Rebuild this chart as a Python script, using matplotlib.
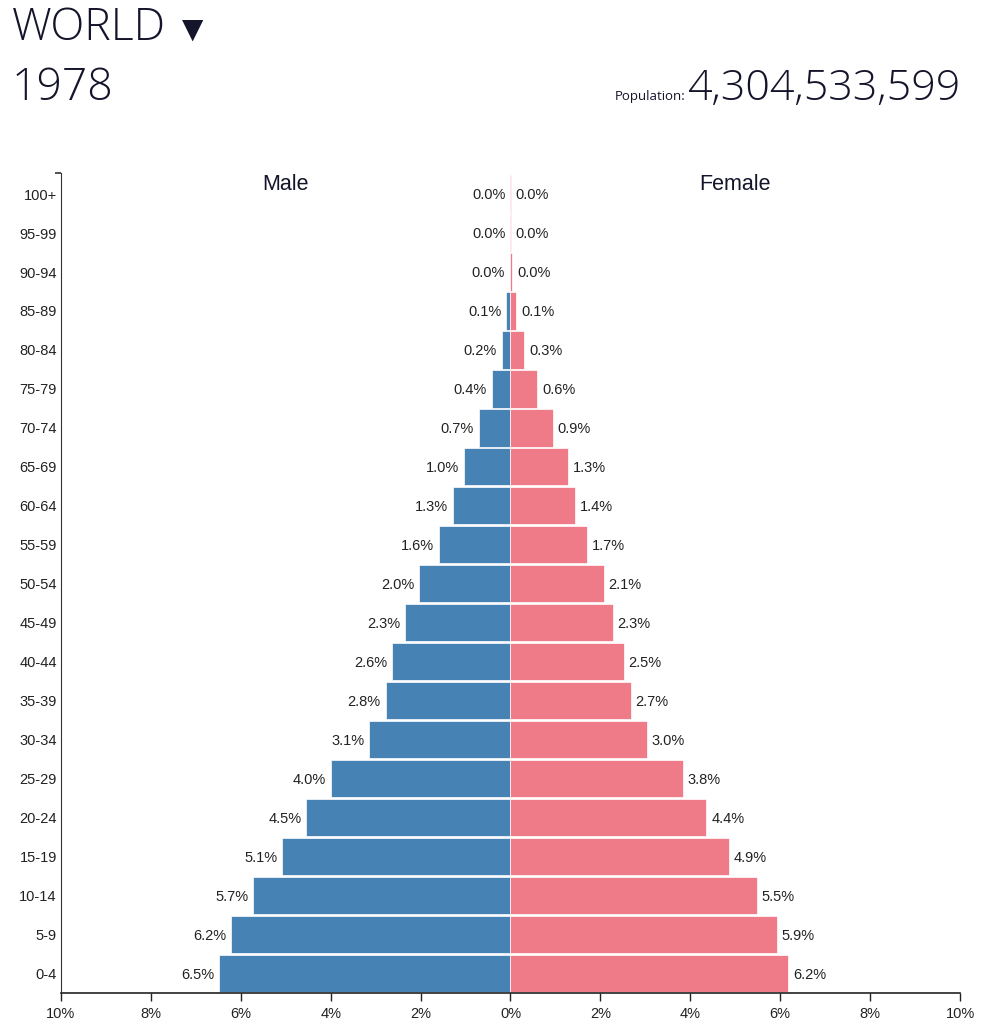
import matplotlib
matplotlib.use('Agg')
import matplotlib.pyplot as plt
import numpy as np

# Data (percent of total population, World 1978)
age_groups = ['0-4', '5-9', '10-14', '15-19', '20-24', '25-29', '30-34',
              '35-39', '40-44', '45-49', '50-54', '55-59', '60-64', '65-69',
              '70-74', '75-79', '80-84', '85-89', '90-94', '95-99', '100+']
male_pct = [6.48, 6.21, 5.72, 5.08, 4.54, 3.99, 3.14, 2.78, 2.63, 2.34, 2.03,
            1.60, 1.29, 1.04, 0.71, 0.42, 0.20, 0.09, 0.02, 0.004, 0.0005]
female_pct = [6.17, 5.92, 5.48, 4.86, 4.36, 3.83, 3.03, 2.67, 2.52, 2.27, 2.07,
              1.71, 1.43, 1.28, 0.94, 0.60, 0.31, 0.13, 0.04, 0.008, 0.001]
x_ticks = [-10, -8, -6, -4, -2, 0, 2, 4, 6, 8, 10]

region = 'WORLD'
year = '1978'
population = 4304533599

MALE_COLOR = '#4682B4'
FEMALE_COLOR = '#EF7B89'
TEXT_COLOR = '#14142b'
LABEL_FONT = ['Liberation Sans', 'DejaVu Sans']
TITLE_FONT = ['Open Sans', 'DejaVu Sans']

fig = plt.figure(figsize=(9.88, 10.32), dpi=100)
ax = fig.add_axes([0.0617, 0.0378, 0.910, 0.7946])

y = np.arange(len(age_groups))
male = np.array(male_pct)
female = np.array(female_pct)

ax.barh(y, -male, height=0.95, color=MALE_COLOR, edgecolor='white', linewidth=0.5)
ax.barh(y, female, height=0.95, color=FEMALE_COLOR, edgecolor='white', linewidth=0.5)

# Value labels beside each bar
for yi, m, f in zip(y, male, female):
    ax.text(-m - 0.11, yi - 0.03, f'{m:.1f}%', ha='right', va='center',
            fontsize=10.5, color='#222222', family=LABEL_FONT)
    ax.text(f + 0.11, yi - 0.03, f'{f:.1f}%', ha='left', va='center',
            fontsize=10.5, color='#222222', family=LABEL_FONT)

ax.set_xlim(-10, 10)
ax.set_ylim(-0.49, 20.54)
ax.set_yticks(y)
ax.set_yticklabels(age_groups, family=LABEL_FONT, fontsize=10.5, color='#222222')
ax.tick_params(axis='y', length=0, pad=3)
ax.set_xticks(x_ticks)
ax.set_xticklabels([f'{abs(t)}%' for t in x_ticks], family=LABEL_FONT,
                   fontsize=10.5, color='#222222')
ax.tick_params(axis='x', length=6, width=1, color='#222222', pad=4)

ax.spines[['top', 'right']].set_visible(False)
ax.spines['left'].set_color('#333333')
ax.spines['bottom'].set_color('#222222')
ax.spines['bottom'].set_linewidth(1.2)

# top outer tick of the age axis
ax.plot([-10.13, -10], [20.54, 20.54], color='#333333', lw=1.2,
        clip_on=False, solid_capstyle='butt')

# Male / Female headers
ax.text(-5, 20.25, 'Male', ha='center', va='center', fontsize=15.5,
        color=TEXT_COLOR, family=LABEL_FONT)
ax.text(5, 20.25, 'Female', ha='center', va='center', fontsize=15.5,
        color=TEXT_COLOR, family=LABEL_FONT)

# Header text
fig.text(12 / 988, 1 - 40 / 1032, region, fontsize=32, color=TEXT_COLOR,
         family=TITLE_FONT, fontweight='light', ha='left', va='baseline')
fig.text(182 / 988, 1 - 38 / 1032, '\u25BC', fontsize=20, color=TEXT_COLOR,
         family=['DejaVu Sans'], ha='left', va='baseline')
fig.text(12 / 988, 1 - 100 / 1032, year, fontsize=32, color=TEXT_COLOR,
         family=TITLE_FONT, fontweight='light', ha='left', va='baseline')
fig.text(960 / 988, 1 - 100 / 1032, f'{population:,}', fontsize=31,
         color=TEXT_COLOR, family=TITLE_FONT, fontweight='light',
         ha='right', va='baseline')
fig.text(685 / 988, 1 - 100 / 1032, 'Population:', fontsize=9.5,
         color=TEXT_COLOR, family=TITLE_FONT, ha='right', va='baseline')

fig.savefig('out.png', dpi=100, facecolor='white')
